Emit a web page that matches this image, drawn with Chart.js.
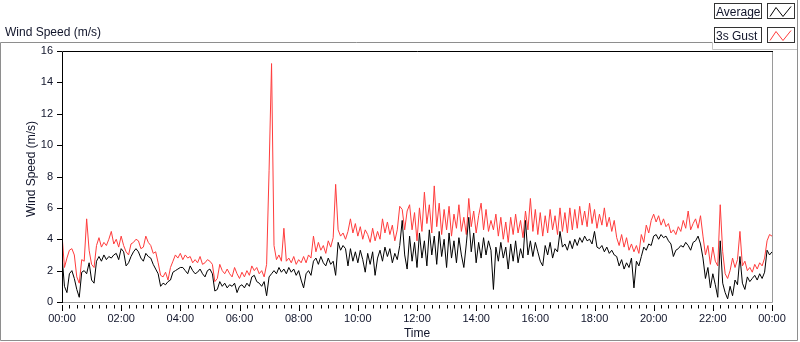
<!DOCTYPE html>
<html>
<head>
<meta charset="utf-8">
<script src="https://cdn.jsdelivr.net/npm/chart.js@4.4.0/dist/chart.umd.min.js"></script>
<style>
  html, body { margin: 0; padding: 0; background: #fff; }
  #wrap { position: relative; width: 800px; height: 342px; }
</style>
</head>
<body>
<div id="wrap"><canvas id="windChart" width="800" height="342"></canvas></div>
<script>
// one sample every 5 minutes, 00:00 .. 24:00
const STEP_MIN = 5;
const seriesNames = ["Average", "3s Gust"];
const seriesColors = ["#000000", "#ff3c3c"];

const average = [
  2.9, 1.0, 0.6, 1.8, 2.0, 1.5, 0.8, 0.3, 1.9, 2.0, 1.8, 2.5,
  1.4, 1.2, 2.6, 2.9, 2.6, 3.0, 2.7, 2.9, 2.8, 3.0, 3.1, 2.7,
  3.4, 3.2, 2.3, 2.5, 2.9, 3.2, 3.4, 3.2, 2.8, 2.6, 3.1, 2.9,
  2.8, 2.4, 2.1, 1.8, 1.0, 1.2, 1.1, 1.3, 1.4, 1.9, 2.0, 2.1,
  2.2, 2.2, 2.0, 1.8, 2.3, 2.0, 1.8, 1.9, 2.1, 1.8, 1.6, 2.0,
  2.1, 1.8, 0.7, 0.8, 1.3, 1.0, 1.2, 0.9, 1.1, 1.0, 1.2, 0.6,
  1.0, 1.1, 0.9, 1.2, 1.0, 1.6, 1.7, 1.3, 1.2, 1.0, 1.3, 0.4,
  1.6, 1.8, 2.0, 1.8, 2.2, 1.9, 2.1, 1.8, 2.2, 1.9, 2.1, 1.7,
  2.0, 1.4, 0.9, 1.8, 2.0, 1.7, 2.6, 2.8, 2.4, 2.9, 2.5, 2.3,
  2.8, 2.4, 2.6, 1.7, 3.8, 3.3, 3.6, 3.4, 2.3, 3.4, 2.6, 3.2,
  2.5, 3.3, 2.7, 1.9, 3.1, 2.4, 3.2, 1.7, 2.8, 3.3, 2.6, 3.5,
  2.9, 3.4, 2.5, 3.1, 2.7, 3.6, 5.2, 3.0, 2.1, 4.2, 2.6, 3.8,
  2.2, 4.4, 2.8, 3.9, 2.3, 4.6, 3.0, 4.2, 2.4, 4.5, 2.9, 4.0,
  2.2, 4.4, 2.8, 3.9, 2.5, 4.1, 3.0, 2.2, 3.7, 5.4, 3.2, 4.4,
  2.5, 3.8, 2.8, 4.1, 3.0, 3.9, 3.3, 0.8, 3.5, 2.6, 3.8, 2.8,
  3.5, 2.1, 3.7, 2.6, 3.9, 2.5, 3.4, 2.8, 5.2, 3.0, 3.9, 2.9,
  3.8, 3.2, 2.6, 2.3, 3.6, 3.0, 3.8, 2.8, 3.4, 3.2, 4.5, 3.5,
  3.7, 3.3, 3.9, 3.4, 4.0, 3.6, 4.1, 3.8, 4.2, 3.9, 4.0, 3.7,
  4.5, 3.5, 3.4, 3.6, 3.2, 3.5, 3.1, 3.3, 3.0, 2.9, 2.3, 2.7,
  2.1, 2.5, 2.2, 2.8, 0.9, 2.6, 2.3, 2.9, 3.5, 3.3, 3.7, 3.6,
  4.2, 4.3, 4.0, 4.3, 4.1, 4.2, 3.9, 3.7, 2.9, 3.3, 3.4, 3.6,
  3.5, 3.8, 3.6, 3.3, 3.8, 3.9, 4.2, 3.7, 2.8, 1.5, 2.2, 0.9,
  1.8, 1.1, 0.3, 3.9, 1.2, 0.6, 0.2, 1.0, 0.4, 1.4, 1.1, 2.9,
  1.2, 0.8, 1.6, 1.3, 1.5, 1.7, 1.4, 1.8, 1.5, 1.9, 3.3, 3.0,
  3.2
];

const gust = [
  4.3, 2.2, 2.8, 3.3, 3.4, 3.0, 1.6, 1.2, 2.7, 2.6, 5.3, 3.3,
  2.4, 2.2, 3.6, 4.1, 3.5, 3.8, 3.6, 4.0, 4.5, 3.7, 4.0, 3.5,
  4.2, 3.6, 3.2, 3.0, 3.7, 3.8, 4.0, 3.9, 3.4, 3.5, 4.2, 3.8,
  3.6, 3.1, 3.2, 2.5, 1.7, 1.6, 1.9, 1.4, 2.2, 2.6, 3.0, 2.8,
  3.1, 2.7, 3.0, 2.8, 2.9, 2.5, 2.7, 2.5, 2.9, 2.4, 2.5, 2.7,
  2.6, 2.4, 1.3, 1.5, 2.4, 2.0, 1.8, 2.1, 1.8, 1.6, 2.2, 1.8,
  1.5, 1.9, 1.6, 2.0, 1.7, 2.3, 2.0, 2.2, 1.8, 2.0, 1.6, 2.4,
  8.4, 15.2, 3.6, 2.7, 3.0, 2.6, 4.7, 2.6, 2.8, 2.5, 2.9, 2.4,
  2.7, 2.5, 2.9, 2.5, 3.0, 2.8, 4.2, 3.2, 3.8, 3.3, 3.6, 3.1,
  3.9, 3.5, 4.1, 7.5, 4.6, 4.2, 4.4, 4.0, 4.5, 5.3, 4.4, 5.0,
  4.2, 4.8, 4.0, 4.6, 4.3, 3.8, 4.7, 3.9, 4.5, 4.0, 5.3, 4.4,
  5.1, 4.3, 4.9, 3.9, 4.6, 6.1, 5.9, 4.6, 5.8, 6.2, 4.6, 5.7,
  3.9, 6.0, 4.5, 7.0, 5.0, 6.2, 4.4, 7.4, 4.8, 6.3, 4.3, 5.9,
  4.6, 6.1, 4.2, 5.6, 4.7, 6.2, 4.5, 5.4, 4.3, 6.6, 4.8, 5.8,
  4.4, 5.5, 6.3, 4.6, 5.9, 4.5, 5.2, 4.6, 5.6, 4.2, 5.4, 4.0,
  5.1, 3.8, 5.4, 4.3, 5.6, 4.4, 5.2, 4.1, 5.8, 4.6, 6.6, 4.5,
  5.9, 4.3, 5.7, 4.2, 5.5, 4.4, 5.9, 4.6, 5.5, 4.3, 6.0, 4.5,
  5.7, 4.4, 6.0, 4.6, 5.9, 4.7, 6.1, 4.9, 5.8, 4.8, 6.3, 5.0,
  5.9, 4.7, 5.6, 4.9, 6.0, 4.8, 5.4, 4.5, 5.2, 4.1, 3.6, 4.3,
  3.5, 4.1, 3.3, 3.7, 3.2, 3.6, 3.1, 4.3, 3.8, 4.9, 4.4, 5.2,
  5.6, 5.1, 5.5, 4.9, 5.3, 4.8, 5.0, 4.4, 4.6, 4.3, 4.8, 4.5,
  5.2, 4.7, 5.8, 4.6, 5.0, 5.3, 4.7, 5.5, 4.2, 3.0, 3.6, 2.4,
  3.5, 2.6, 2.3, 6.2, 3.2, 1.8, 1.5, 2.0, 2.8, 2.2, 2.7, 4.5,
  2.3, 2.6, 2.0, 2.2, 1.9, 2.4, 2.1, 2.5, 2.3, 2.8, 3.9, 4.3,
  4.2
];

const xTickLabels = ["00:00", "02:00", "04:00", "06:00", "08:00", "10:00", "12:00",
                     "14:00", "16:00", "18:00", "20:00", "22:00", "00:00"];
const yTickLabels = ["0", "2", "4", "6", "8", "10", "12", "14", "16"];

const FONT = "'Liberation Sans', Arial, sans-serif";
const TEXT = "#10142a";

function toPoints(arr) {
  return arr.map((v, i) => ({ x: i * STEP_MIN, y: v }));
}

// frames, ticks, titles and legend in the LabVIEW look
const labviewPlugin = {
  id: "labview",
  beforeDraw(chart) {
    const ctx = chart.ctx;
    ctx.save();
    ctx.fillStyle = "#fff";
    ctx.fillRect(0, 0, chart.width, chart.height);
    ctx.restore();
  },
  afterDraw(chart) {
    const ctx = chart.ctx;
    const a = chart.chartArea;
    const xs = chart.scales.x;
    const ys = chart.scales.y;
    ctx.save();

    // outer panel
    ctx.strokeStyle = "#8e8e8e";
    ctx.lineWidth = 1;
    ctx.beginPath();
    ctx.moveTo(712, 42.5); ctx.lineTo(0.5, 42.5); ctx.lineTo(0.5, 340.5);
    ctx.lineTo(797.5, 340.5); ctx.lineTo(797.5, 0);
    ctx.stroke();
    ctx.strokeStyle = "#c4c4c4";
    ctx.beginPath();
    ctx.moveTo(712.5, 42); ctx.lineTo(712.5, 49.5); ctx.lineTo(797, 49.5);
    ctx.stroke();

    // plot frame
    ctx.strokeStyle = "#9a9a9a";
    ctx.beginPath();
    ctx.moveTo(a.left, a.bottom + 0.5); ctx.lineTo(a.right + 0.5, a.bottom + 0.5);
    ctx.lineTo(a.right + 0.5, a.top);
    ctx.stroke();
    ctx.strokeStyle = "#000";
    ctx.beginPath();
    ctx.moveTo(a.right + 1, a.top + 0.5); ctx.lineTo(a.left + 0.5, a.top + 0.5);
    ctx.lineTo(a.left + 0.5, a.bottom + 1);
    ctx.stroke();

    // y ticks
    ctx.beginPath();
    yTickLabels.forEach((t) => {
      const y = Math.round(ys.getPixelForValue(Number(t))) + 0.5;
      ctx.moveTo(a.left - 5, y); ctx.lineTo(a.left, y);
    });
    ctx.stroke();

    // x ticks: major every 2 h, minor every 15 min
    ctx.beginPath();
    for (let m = 0; m <= 1440; m += 15) {
      const x = Math.round(xs.getPixelForValue(m)) + 0.5;
      const len = m % 120 === 0 ? 6 : 3.5;
      ctx.moveTo(x, a.bottom + 3); ctx.lineTo(x, a.bottom + 3 + len);
    }
    ctx.stroke();

    // titles
    ctx.fillStyle = TEXT;
    ctx.font = "12px " + FONT;
    ctx.textAlign = "left";
    ctx.textBaseline = "alphabetic";
    ctx.fillText("Wind Speed (m/s)", 5, 36);
    ctx.textAlign = "center";
    ctx.textBaseline = "middle";
    ctx.fillText("Time", (a.left + a.right) / 2, 334);
    ctx.save();
    ctx.translate(32, 169);
    ctx.rotate(-Math.PI / 2);
    ctx.fillText("Wind Speed (m/s)", 0, 0);
    ctx.restore();

    // legend
    chart.data.datasets.forEach((ds, i) => {
      const top = 3.5 + i * 24;
      ctx.fillStyle = "#fff";
      ctx.strokeStyle = "#333";
      ctx.fillRect(714.5, top, 47, 15);
      ctx.strokeRect(714.5, top, 47, 15);
      ctx.fillRect(767.5, top, 27, 15);
      ctx.strokeRect(767.5, top, 27, 15);
      ctx.fillStyle = TEXT;
      ctx.textAlign = "left";
      ctx.textBaseline = "alphabetic";
      ctx.fillText(ds.label, 716, top + 12);
      ctx.strokeStyle = ds.borderColor;
      ctx.beginPath();
      ctx.moveTo(770, top + 13); ctx.lineTo(776, top + 4);
      ctx.lineTo(783, top + 13); ctx.lineTo(791, top + 3);
      ctx.stroke();
    });

    ctx.restore();
  }
};

new Chart(document.getElementById("windChart"), {
  type: "line",
  data: {
    datasets: [
      { label: seriesNames[0], data: toPoints(average), borderColor: seriesColors[0],
        borderWidth: 1, pointRadius: 0, tension: 0 },
      { label: seriesNames[1], data: toPoints(gust), borderColor: seriesColors[1],
        borderWidth: 1, pointRadius: 0, tension: 0 }
    ]
  },
  options: {
    responsive: false,
    animation: false,
    layout: { padding: { left: 0, right: 28, top: 51, bottom: 0 } },
    plugins: { legend: { display: false }, tooltip: { enabled: false } },
    scales: {
      x: {
        type: "linear", min: 0, max: 1440,
        grid: { display: false, drawTicks: false },
        border: { display: false },
        ticks: {
          stepSize: 120, autoSkip: false, maxRotation: 0, padding: 10,
          color: TEXT, font: { family: FONT, size: 11 },
          callback: (v) => xTickLabels[v / 120]
        },
        afterFit: (s) => { s.height = 40; }
      },
      y: {
        min: 0, max: 16,
        grid: { display: false, drawTicks: false },
        border: { display: false },
        ticks: {
          stepSize: 2, padding: 9,
          color: TEXT, font: { family: FONT, size: 11 },
          callback: (v) => yTickLabels[v / 2]
        },
        afterFit: (s) => { s.width = 62; }
      }
    }
  },
  plugins: [labviewPlugin]
});
</script>
</body>
</html>
